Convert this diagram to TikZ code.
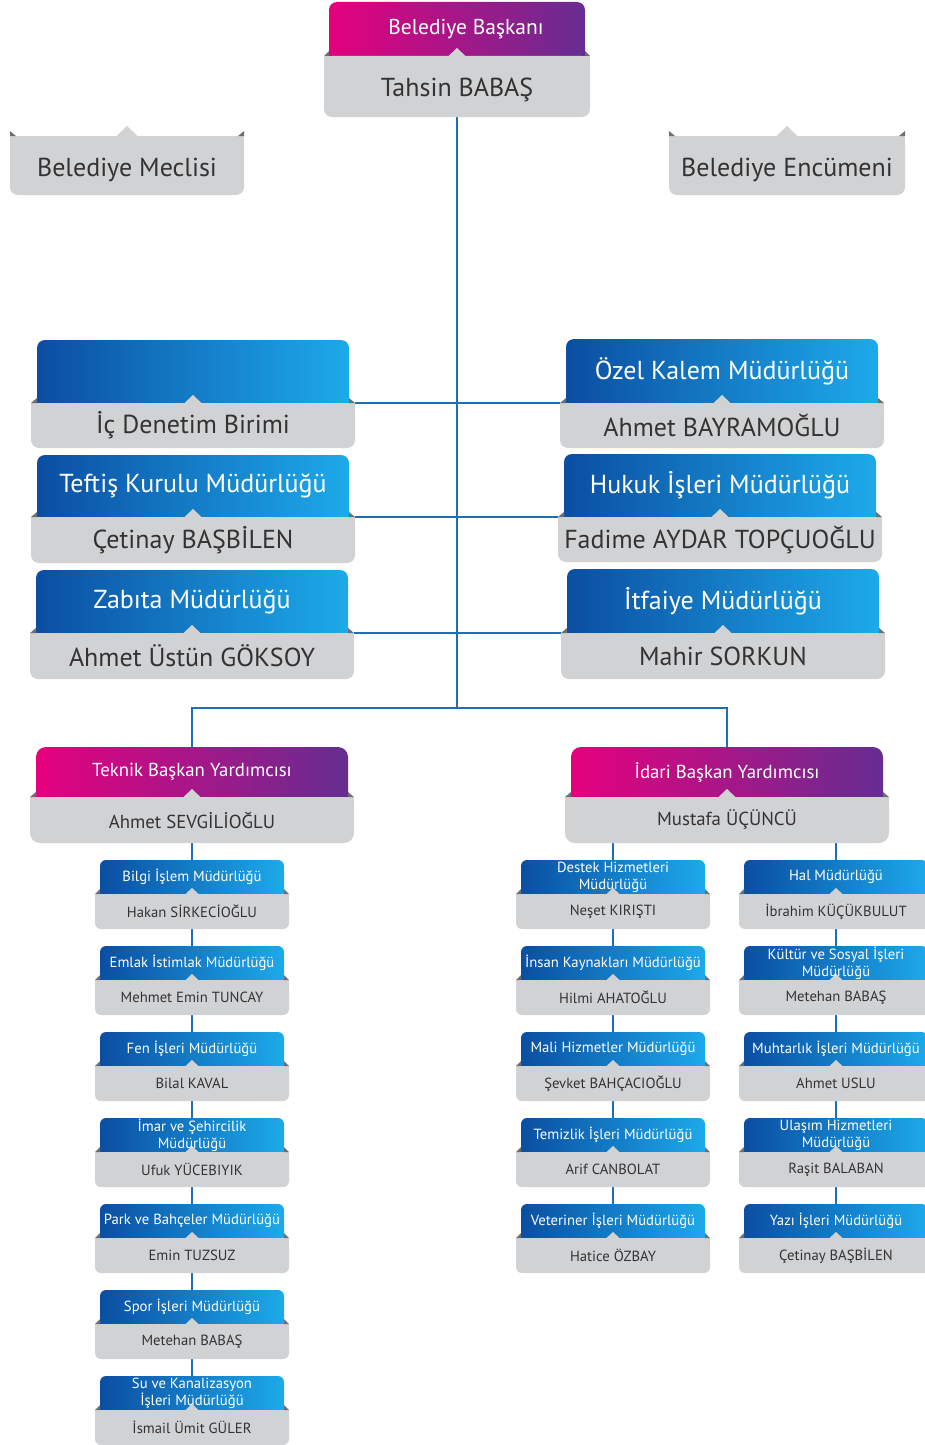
\documentclass[tikz,border=0pt]{standalone}
\usepackage{fontspec}
\setmainfont{PT Sans}
\usetikzlibrary{calc}
\definecolor{magL}{HTML}{E6007E}
\definecolor{magR}{HTML}{662D91}
\definecolor{bluL}{HTML}{0B4EA2}
\definecolor{bluR}{HTML}{1DAAEA}
\definecolor{greyF}{HTML}{D1D2D4}
\definecolor{foldC}{HTML}{6D6E71}
\definecolor{lineC}{HTML}{1F6FB6}
\definecolor{txtC}{HTML}{333333}
\pgfdeclarelayer{bg}\pgfsetlayers{bg,main}
\tikzset{
 maggrad/.style={left color=magL,right color=magR},
 blugrad/.style={left color=bluL,right color=bluR},
 link/.style={draw=lineC,line width=2pt},
 toptxt/.style={text=white,inner sep=0pt,align=center},
 bottxt/.style={text=txtC,inner sep=0pt,align=center},
}
\newcommand\cardext{6}
\newcommand\cardrad{8}
\newcommand\notchw{9}
\newcommand\notchh{8}
% #1 name, #2 cx, #3 ytop, #4 ymid, #5 ybot, #6 half width, #7 shading, #8 top text, #9 bottom text
\newcommand\card[9]{%
 \shade[#7,rounded corners=\cardrad pt] ({#2-#6},#3) rectangle ({#2+#6},{#4+\cardrad});
 \fill[greyF,rounded corners=\cardrad pt] ({#2-#6-\cardext},#4) rectangle ({#2+#6+\cardext},#5);
 \fill[greyF] ({#2-#6-\cardext},#4) rectangle ({#2+#6+\cardext},{#4+\cardrad});
 \fill[greyF] ({#2-\notchw},{#4+0.5}) -- (#2,{#4-\notchh}) -- ({#2+\notchw},{#4+0.5}) -- cycle;
 \fill[foldC] ({#2-#6-\cardext},#4) -- ({#2-#6},#4) -- ({#2-#6},{#4-5}) -- cycle;
 \fill[foldC] ({#2+#6+\cardext},#4) -- ({#2+#6},#4) -- ({#2+#6},{#4-5}) -- cycle;
 \node[toptxt] (#1-t) at (#2,{(#3+#4)/2}) {#8};
 \node[bottxt] (#1) at (#2,{(#4+#5)/2}) {#9};
 \coordinate (#1-n) at (#2,#3);
 \coordinate (#1-s) at (#2,#5);
 \coordinate (#1-w) at ({#2-#6-\cardext},#4);
 \coordinate (#1-e) at ({#2+#6+\cardext},#4);
}
% #1 name, #2 cx, #3 ytop, #4 ybot, #5 half width, #6 text
\newcommand\plaincard[6]{%
 \fill[greyF,rounded corners=8pt] ({#2-#5},#3) rectangle ({#2+#5},#4);
 \fill[greyF] ({#2-#5},#3) rectangle ({#2+#5},{#3+10});
 \fill[greyF] ({#2-11},{#3+0.5}) -- (#2,{#3-10}) -- ({#2+11},{#3+0.5}) -- cycle;
 \fill[foldC] ({#2-#5},#3) -- ({#2-#5+6},#3) -- ({#2-#5},{#3-5}) -- cycle;
 \fill[foldC] ({#2+#5},#3) -- ({#2+#5-6},#3) -- ({#2+#5},{#3-5}) -- cycle;
 \node[bottxt] (#1) at (#2,{(#3+#4)/2+4}) {#6};
}
\begin{document}
\begin{tikzpicture}[x=1pt,y=-1pt]
\useasboundingbox (0,0) rectangle (925,1445);

% Top
\begin{scope}[toptxt/.append style={font=\fontsize{21.5}{24}\selectfont,xshift=9pt},
              bottxt/.append style={font=\fontsize{26}{30}\selectfont,yshift=-3pt}]
\renewcommand\cardext{5}
\card{bb}{457}{2}{56}{117}{128}{maggrad}{Belediye Başkanı}{Tahsin BABAŞ}
\end{scope}

\begin{scope}[bottxt/.append style={font=\fontsize{26}{30}\selectfont}]
\plaincard{mec}{127}{136}{195}{117}{Belediye Meclisi}
\plaincard{enc}{787}{136}{195}{118}{Belediye Encümeni}
\end{scope}

% middle
\begin{scope}[toptxt/.append style={font=\fontsize{26}{30}\selectfont},
              bottxt/.append style={font=\fontsize{26}{30}\selectfont}]
\card{ic}{193}{340}{403}{448}{156}{blugrad}{}{İç Denetim Birimi}
\card{tf}{193}{455}{517}{563}{156}{blugrad}{Teftiş Kurulu Müdürlüğü}{Çetinay BAŞBİLEN}
\card{zb}{192}{570}{633}{679}{156}{blugrad}{Zabıta Müdürlüğü}{Ahmet Üstün GÖKSOY}
\card{oz}{722}{339}{403}{448}{156}{blugrad}{Özel Kalem Müdürlüğü}{Ahmet BAYRAMOĞLU}
\card{hk}{720}{454}{517}{562}{156}{blugrad}{Hukuk İşleri Müdürlüğü}{Fadime AYDAR TOPÇUOĞLU}
\card{it}{723}{569}{633}{679}{156}{blugrad}{İtfaiye Müdürlüğü}{Mahir SORKUN}
\end{scope}

% deputies
\begin{scope}[toptxt/.append style={font=\fontsize{18.8}{22}\selectfont},
              bottxt/.append style={font=\fontsize{18.8}{22}\selectfont}]
\renewcommand\cardrad{10}
\card{tk}{192}{747}{797}{843}{156}{maggrad}{Teknik Başkan Yardımcısı}{Ahmet SEVGİLİOĞLU}
\card{id}{727}{747}{797}{843}{156}{maggrad}{İdari Başkan Yardımcısı}{Mustafa ÜÇÜNCÜ}
\end{scope}

% small
\begin{scope}[toptxt/.append style={font=\fontsize{14.7}{17}\selectfont},
              bottxt/.append style={font=\fontsize{14.7}{17}\selectfont}]
\renewcommand\cardrad{6}
\renewcommand\cardext{5}
\renewcommand\notchw{7}
\renewcommand\notchh{6}
\card{bi}{192}{860}{894}{929}{92}{blugrad}{Bilgi İşlem Müdürlüğü}{Hakan SİRKECİOĞLU}
\card{em}{192}{946}{980}{1015}{92}{blugrad}{Emlak İstimlak Müdürlüğü}{Mehmet Emin TUNCAY}
\card{fe}{192}{1032}{1066}{1101}{92}{blugrad}{Fen İşleri Müdürlüğü}{Bilal KAVAL}
\card{im}{192}{1118}{1152}{1187}{92}{blugrad}{İmar ve Şehircilik\\Müdürlüğü}{Ufuk YÜCEBIYIK}
\card{pb}{192}{1204}{1238}{1273}{92}{blugrad}{Park ve Bahçeler Müdürlüğü}{Emin TUZSUZ}
\card{sp}{192}{1290}{1324}{1359}{92}{blugrad}{Spor İşleri Müdürlüğü}{Metehan BABAŞ}
\card{su}{192}{1376}{1410}{1445}{92}{blugrad}{Su ve Kanalizasyon\\İşleri Müdürlüğü}{İsmail Ümit GÜLER}

\card{ds}{613}{860}{894}{929}{92}{blugrad}{Destek Hizmetleri\\Müdürlüğü}{Neşet KIRIŞTI}
\card{ik}{613}{946}{980}{1015}{92}{blugrad}{İnsan Kaynakları Müdürlüğü}{Hilmi AHATOĞLU}
\card{mh}{613}{1032}{1066}{1101}{92}{blugrad}{Mali Hizmetler Müdürlüğü}{Şevket BAHÇACIOĞLU}
\card{tm}{613}{1118}{1152}{1187}{92}{blugrad}{Temizlik İşleri Müdürlüğü}{Arif CANBOLAT}
\card{vt}{613}{1204}{1238}{1273}{92}{blugrad}{Veteriner İşleri Müdürlüğü}{Hatice ÖZBAY}

\card{hl}{836}{860}{894}{929}{92}{blugrad}{Hal Müdürlüğü}{İbrahim KÜÇÜKBULUT}
\card{ks}{836}{946}{980}{1015}{92}{blugrad}{Kültür ve Sosyal İşleri\\Müdürlüğü}{Metehan BABAŞ}
\card{mu}{836}{1032}{1066}{1101}{92}{blugrad}{Muhtarlık İşleri Müdürlüğü}{Ahmet USLU}
\card{ul}{836}{1118}{1152}{1187}{92}{blugrad}{Ulaşım Hizmetleri\\Müdürlüğü}{Raşit BALABAN}
\card{yz}{836}{1204}{1238}{1273}{92}{blugrad}{Yazı İşleri Müdürlüğü}{Çetinay BAŞBİLEN}
\end{scope}

\coordinate (br) at (457,708);
\begin{pgfonlayer}{bg}
\draw[link] (bb-s) -- (br);
\draw[link] (ic-e) -- (oz-w);
\draw[link] (tf-e) -- (hk-w);
\draw[link] (zb-e) -- (it-w);
\draw[link] (tk-n) |- (br) -| (id-n);
\draw[link] (tk-s) -- (su-n);
\draw[link] (ds-n |- id-s) -- (vt-n);
\draw[link] (hl-n |- id-s) -- (yz-n);
\end{pgfonlayer}
\end{tikzpicture}
\end{document}
